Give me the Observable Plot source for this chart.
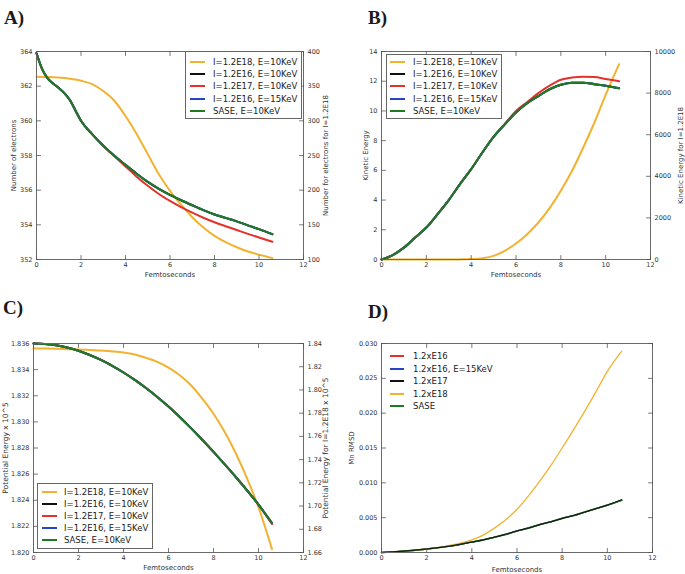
<!DOCTYPE html>
<html><head><meta charset="utf-8">
<script src="https://cdn.jsdelivr.net/npm/d3@7"></script>
<script src="https://cdn.jsdelivr.net/npm/@observablehq/plot@0.6"></script>
<style>
body{margin:0;background:#fff;}
#root{position:relative;width:685px;height:574px;overflow:hidden;font-family:"DejaVu Sans",sans-serif;background:#fff;}
.panel{position:absolute;}
.plabel{position:absolute;font-family:"Liberation Serif",serif;font-weight:bold;font-size:19px;line-height:19px;color:#1a1a1a;}
.legend{position:absolute;background:#fff;}
.legend.box{border:1px solid #666;box-sizing:border-box;}
.li{position:absolute;white-space:nowrap;font-size:8.5px;line-height:12px;height:12px;color:#222;}
.sw{position:absolute;height:2px;}
</style>
</head><body><div id="root"></div>
<script>
// ---------- data ----------
const xTicks = [0, 2, 4, 6, 8, 10, 12];

// Panel A: number of electrons
const timeA = [0,0.25,0.5,0.75,1,1.25,1.5,1.75,2,2.5,3,3.5,4,4.5,5,5.5,6,6.5,7,7.5,8,8.5,9,9.5,10,10.6];
const sasePanelA = [363.9,363.0,362.45,362.15,361.9,361.6,361.2,360.6,360.0,359.23,358.56,357.98,357.46,356.95,356.48,356.08,355.73,355.42,355.13,354.85,354.6,354.4,354.2,353.97,353.75,353.46];
const e16PanelA = [363.9,363.0,362.45,362.15,361.9,361.6,361.2,360.6,360.0,359.23,358.56,357.98,357.46,356.95,356.48,356.08,355.73,355.42,355.13,354.85,354.6,354.4,354.2,353.97,353.75,353.46];
const e16k15PanelA = [363.9,363.0,362.45,362.15,361.9,361.6,361.2,360.6,360.0,359.23,358.56,357.98,357.46,356.95,356.48,356.08,355.73,355.42,355.13,354.85,354.6,354.4,354.2,353.97,353.75,353.46];
const e17PanelA = [363.9,363.0,362.45,362.15,361.9,361.6,361.2,360.6,360.0,359.23,358.56,357.95,357.37,356.78,356.25,355.78,355.38,355.02,354.7,354.41,354.15,353.92,353.7,353.48,353.27,353.02];
const e18PanelA = [363.5,363.4,363.2,362.9,362.5,361.8,360.8,359.5,357.7,353,343,329,307,281,252,223,199,179,161,146,134,125,117.7,111.5,107,102];
const yTicksA = [352,354,356,358,360,362,364];
const rTicksA = [100,150,200,250,300,350,400];

// Panel B: kinetic energy
const timeB = [0,0.5,1,1.5,2,2.5,3,3.5,4,4.5,5,5.5,6,6.5,7,7.5,8,8.5,9,9.5,10,10.6];
const sasePanelB = [0,0.3,0.8,1.48,2.15,3.05,4.0,5.07,6.08,7.2,8.25,9.1,9.9,10.52,11.0,11.46,11.76,11.9,11.9,11.8,11.7,11.53];
const e16PanelB = [0,0.3,0.8,1.48,2.15,3.05,4.0,5.07,6.08,7.2,8.25,9.1,9.9,10.52,11.0,11.46,11.76,11.9,11.9,11.8,11.7,11.53];
const e16k15PanelB = [0,0.3,0.8,1.48,2.15,3.05,4.0,5.07,6.08,7.2,8.25,9.1,9.9,10.52,11.0,11.46,11.76,11.9,11.9,11.8,11.7,11.53];
const e17PanelB = [0,0.3,0.8,1.48,2.15,3.05,4.0,5.07,6.08,7.2,8.25,9.12,10.0,10.6,11.2,11.7,12.1,12.25,12.3,12.28,12.15,12.0];
const e18PanelB = [0,0,0,0,0,0,0,5,20,64,176,417,770,1218,1780,2468,3300,4263,5385,6587,7917,9391];
const yTicksB = [0,2,4,6,8,10,12,14];
const rTicksB = [0,2000,4000,6000,8000,10000];

// Panel C: potential energy
const timeC = [0,0.5,1,1.5,2,2.5,3,3.5,4,4.5,5,5.5,6,6.5,7,7.5,8,8.5,9,9.5,10,10.6];
const sasePanelC = [1.8360,1.83597,1.83587,1.83569,1.83544,1.83512,1.83474,1.83429,1.83378,1.83321,1.83259,1.83191,1.83117,1.83037,1.82952,1.82863,1.8277,1.82674,1.82576,1.82474,1.82366,1.82226];
const e16PanelC = [1.8360,1.83597,1.83587,1.83569,1.83544,1.83512,1.83474,1.83429,1.83378,1.83321,1.83259,1.83191,1.83117,1.83037,1.82952,1.82863,1.8277,1.82674,1.82576,1.82474,1.82366,1.82222];
const e16k15PanelC = [1.8360,1.83597,1.83587,1.83569,1.83544,1.83512,1.83474,1.83429,1.83378,1.83321,1.83259,1.83191,1.83117,1.83037,1.82952,1.82863,1.8277,1.82674,1.82576,1.82474,1.82366,1.82226];
const e17PanelC = [1.8360,1.83597,1.83587,1.83569,1.83544,1.83512,1.83474,1.83429,1.83378,1.83321,1.83259,1.83191,1.83117,1.83037,1.82952,1.82863,1.8277,1.82674,1.82576,1.82474,1.82366,1.82218];
const e18PanelC = [1.8357,1.8356,1.8354,1.8351,1.8348,1.8344,1.8340,1.8332,1.8322,1.8305,1.8276,1.8242,1.8193,1.8126,1.804,1.7925,1.7795,1.7637,1.745,1.7234,1.699,1.6629];
const yTicksC = [1.820,1.822,1.824,1.826,1.828,1.830,1.832,1.834,1.836];
const rTicksC = [1.66,1.68,1.70,1.72,1.74,1.76,1.78,1.80,1.82,1.84];

// Panel D: Mn RMSD
const timeD = [0,1,2,3,4,4.5,5,5.5,6,6.5,7,7.5,8,8.5,9,9.5,10,10.64];
const e16PanelD = [0,0.0002,0.0005,0.0009,0.0015,0.0018,0.0022,0.0026,0.0031,0.0035,0.0040,0.0044,0.0049,0.0053,0.0058,0.0063,0.0068,0.0075];
const e16k15PanelD = [0,0.0002,0.0005,0.0009,0.0015,0.0018,0.0022,0.0026,0.0031,0.0035,0.0040,0.0044,0.0049,0.0053,0.0058,0.0063,0.0068,0.0075];
const e17PanelD = [0,0.0002,0.0005,0.0009,0.0015,0.0018,0.0022,0.0026,0.0031,0.0035,0.0040,0.0044,0.0049,0.0053,0.0058,0.0063,0.0068,0.0076];
const e18PanelD = [0,0.0002,0.0005,0.001,0.0018,0.0025,0.0035,0.0047,0.0062,0.0081,0.0102,0.0125,0.015,0.0176,0.0203,0.0231,0.026,0.0289];
const sasePanelD = [0,0.0002,0.0005,0.0009,0.0015,0.0018,0.0022,0.0026,0.0031,0.0035,0.0040,0.0044,0.0049,0.0053,0.0058,0.0063,0.0068,0.0075];
const yTicksD = [0,0.005,0.010,0.015,0.020,0.025,0.030];

const legendLabels = ["I=1.2E18, E=10KeV","I=1.2E16, E=10KeV","I=1.2E17, E=10KeV","I=1.2E16, E=15KeV","SASE, E=10KeV"];
const legendLabelsD = ["1.2xE16","1.2xE16, E=15KeV","1.2xE17","1.2xE18","SASE"];

const C = {yellow:"#f2b230", black:"#111111", red:"#e2322a", blue:"#2744c4", green:"#1f7a22"};
const legendColors = [C.yellow, C.black, C.red, C.blue, C.green];
const legendColorsD = [C.red, C.blue, C.black, C.yellow, C.green];

// ---------- helpers ----------
const rows = (t, v) => t.map((x, i) => ({x, y: v[i]}));
const tickShape = {draw(ctx, l) { ctx.moveTo(0, 0); ctx.lineTo(0, -l); }};
const root = document.getElementById("root");

function panel(c) {
  const marks = [];
  for (const s of c.series) {
    marks.push(Plot.line(rows(s.t, s.v), {x: "x", y: s.map ? (d => s.map(d.y)) : "y", stroke: s.color, strokeWidth: s.width, curve: "monotone-x"}));
  }
  marks.push(Plot.frame({stroke: "#6a6a6a", strokeWidth: 1}));
  const tk = {stroke: "#555", strokeWidth: 0.8, length: 4, shape: tickShape, anchor: "start"};
  marks.push(Plot.vector(xTicks, {...tk, x: d => d, frameAnchor: "bottom", rotate: 0}));
  marks.push(Plot.vector(xTicks, {...tk, x: d => d, frameAnchor: "top", rotate: 180}));
  marks.push(Plot.vector(c.yTicks, {...tk, y: d => d, frameAnchor: "left", rotate: 90}));
  marks.push(Plot.vector(c.rTicks, {...tk, y: d => d, frameAnchor: "right", rotate: -90}));
  marks.push(Plot.axisX(xTicks, {tickSize: 0, tickPadding: 3, label: null, tickFormat: d => String(d), fontSize: 6.5, fill: "#333"}));
  marks.push(Plot.axisY(c.yTicks, {anchor: "left", tickSize: 0, tickPadding: 4, label: null, tickFormat: c.yFmt, fontSize: 6.5, fill: "#333"}));
  if (c.rFmt) marks.push(Plot.axisY(c.rTicks, {anchor: "right", tickSize: 0, tickPadding: 4, label: null, tickFormat: c.rFmt, fontSize: 6.5, fill: "#333"}));
  marks.push(Plot.text(["Femtoseconds"], {text: d => d, frameAnchor: "bottom", dy: c.xLabelDy, textAnchor: "middle", lineAnchor: "middle", fontSize: 7, fill: "#333"}));
  marks.push(Plot.text([c.yLabel], {text: d => d, frameAnchor: "left", dx: -c.yLabelDx, rotate: -90, textAnchor: "middle", lineAnchor: "middle", fontSize: c.labelSize || 7, fill: "#333"}));
  if (c.rLabel) marks.push(Plot.text([c.rLabel], {text: d => d, frameAnchor: "right", dx: c.rLabelDx, rotate: -90, textAnchor: "middle", lineAnchor: "middle", fontSize: c.labelSize || 7, fill: "#333"}));
  const svg = Plot.plot({
    width: c.w, height: c.h,
    marginLeft: c.mL, marginRight: c.mR, marginTop: c.mT, marginBottom: c.mB,
    x: {domain: [0, 12]},
    y: {domain: c.yDomain},
    style: {fontFamily: "DejaVu Sans, sans-serif", background: "transparent", overflow: "visible", color: "#333"},
    marks
  });
  svg.classList.add("panel");
  svg.style.left = c.left + "px";
  svg.style.top = c.top + "px";
  root.appendChild(svg);
}

function plabel(txt, x, y) {
  const d = document.createElement("div");
  d.className = "plabel"; d.textContent = txt;
  d.style.left = x + "px"; d.style.top = y + "px";
  root.appendChild(d);
}

function legend(o) {
  const box = document.createElement("div");
  box.className = "legend" + (o.box ? " box" : "");
  box.style.left = o.left + "px"; box.style.top = o.top + "px";
  box.style.width = o.w + "px"; box.style.height = o.h + "px";
  if (!o.box) box.style.background = "transparent";
  root.appendChild(box);
  o.labels.forEach((lab, i) => {
    const cy = o.y0 + i * o.dy;
    const sw = document.createElement("div");
    sw.className = "sw";
    sw.style.left = o.lx0 + "px"; sw.style.width = (o.lx1 - o.lx0) + "px";
    sw.style.top = (cy - 1) + "px"; sw.style.background = o.colors[i];
    root.appendChild(sw);
    const t = document.createElement("div");
    t.className = "li"; t.textContent = lab;
    t.style.left = o.tx + "px"; t.style.top = (cy - 6) + "px";
    root.appendChild(t);
  });
}

// secondary-axis conversions
const aToL = s => 352 + (s - 100) / 300 * 12;
const aToR = p => String(Math.round(100 + (p - 352) / 12 * 300));
const bToL = s => s / 10000 * 14;
const bToR = p => String(Math.round(p / 14 * 10000));
const cToL = s => 1.820 + (s - 1.66) / 0.18 * 0.016;
const cToR = p => (1.66 + (p - 1.820) / 0.016 * 0.18).toFixed(2);

// ---------- Panel A ----------
panel({
  left: 0, top: 0, w: 342, h: 287, mL: 36, mR: 39, mT: 51, mB: 28,
  yDomain: [352, 364], yTicks: yTicksA, yFmt: d => String(d),
  rTicks: rTicksA.map(aToL), rFmt: aToR,
  xLabelDy: 15, yLabel: "Number of electrons", yLabelDx: 23,
  rLabel: "Number for electrons for I=1.2E18", rLabelDx: 22,
  series: [
    {t: timeA, v: e18PanelA, color: C.yellow, width: 2, map: aToL},
    {t: timeA, v: e16PanelA, color: C.black, width: 2},
    {t: timeA, v: e17PanelA, color: C.red, width: 2},
    {t: timeA, v: e16k15PanelA, color: C.blue, width: 2},
    {t: timeA, v: sasePanelA, color: C.green, width: 2}
  ]
});
// ---------- Panel B ----------
panel({
  left: 342, top: 0, w: 343, h: 287, mL: 39, mR: 35, mT: 51, mB: 28,
  yDomain: [0, 14], yTicks: yTicksB, yFmt: d => String(d),
  rTicks: rTicksB.map(bToL), rFmt: bToR,
  xLabelDy: 15, yLabel: "Kinetic Energy", yLabelDx: 16,
  rLabel: "Kinetic Energy for I=1.2E18", rLabelDx: 30,
  series: [
    {t: timeB, v: e18PanelB, color: C.yellow, width: 2, map: bToL},
    {t: timeB, v: e16PanelB, color: C.black, width: 2},
    {t: timeB, v: e17PanelB, color: C.red, width: 2},
    {t: timeB, v: e16k15PanelB, color: C.blue, width: 2},
    {t: timeB, v: sasePanelB, color: C.green, width: 2}
  ]
});
// ---------- Panel C ----------
panel({
  left: 0, top: 287, w: 342, h: 287, mL: 33, mR: 39, mT: 56, mB: 22,
  yDomain: [1.820, 1.836], yTicks: yTicksC, yFmt: d => d.toFixed(3),
  rTicks: rTicksC.map(cToL), rFmt: cToR, labelSize: 7.5,
  xLabelDy: 15, yLabel: "Potential Energy x 10^5", yLabelDx: 28,
  rLabel: "Potential Energy for I=1.2E18 x 10^5", rLabelDx: 22,
  series: [
    {t: timeC, v: e18PanelC, color: C.yellow, width: 2, map: cToL},
    {t: timeC, v: e16PanelC, color: C.black, width: 2},
    {t: timeC, v: e17PanelC, color: C.red, width: 2},
    {t: timeC, v: e16k15PanelC, color: C.blue, width: 2},
    {t: timeC, v: sasePanelC, color: C.green, width: 2}
  ]
});
// ---------- Panel D ----------
panel({
  left: 342, top: 287, w: 343, h: 287, mL: 39, mR: 33, mT: 56, mB: 22,
  yDomain: [0, 0.030], yTicks: yTicksD, yFmt: d => d.toFixed(3),
  rTicks: yTicksD, rFmt: null,
  xLabelDy: 17, yLabel: "Mn RMSD", yLabelDx: 30,
  series: [
    {t: timeD, v: e16PanelD, color: C.red, width: 1.3},
    {t: timeD, v: e16k15PanelD, color: C.blue, width: 1.3},
    {t: timeD, v: e18PanelD, color: C.yellow, width: 1.3},
    {t: timeD, v: sasePanelD, color: C.green, width: 1.6},
    {t: timeD, v: e17PanelD, color: C.black, width: 1}
  ]
});

plabel("A)", 4, 8);
plabel("B)", 368, 8);
plabel("C)", 3, 298);
plabel("D)", 368, 302);

legend({box: true, left: 185, top: 51, w: 117, h: 68, labels: legendLabels, colors: legendColors, y0: 62, dy: 12.2, lx0: 190, lx1: 205, tx: 213});
legend({box: true, left: 386, top: 54, w: 116, h: 65, labels: legendLabels, colors: legendColors, y0: 62, dy: 12.2, lx0: 390, lx1: 405, tx: 413});
legend({box: true, left: 37, top: 483, w: 116, h: 66, labels: legendLabels, colors: legendColors, y0: 492, dy: 12.1, lx0: 42, lx1: 57, tx: 64});
legend({box: false, left: 386, top: 349, w: 120, h: 64, labels: legendLabelsD, colors: legendColorsD, y0: 356, dy: 12.5, lx0: 390, lx1: 404, tx: 413});
</script>
</body></html>
